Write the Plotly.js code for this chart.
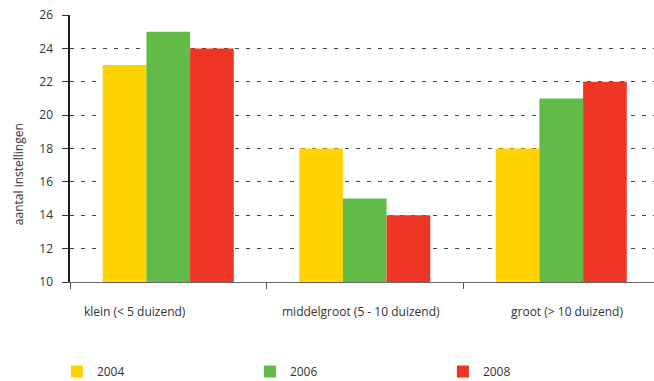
<!DOCTYPE html>
<html><head><meta charset="utf-8">
<script src="https://cdn.plot.ly/plotly-3.0.1.min.js"></script>
<style>html,body{margin:0;padding:0;background:#fff}#c{width:654px;height:381px}</style>
</head><body><div id="c"></div>
<script>
const categories = ["klein (< 5 duizend)", "middelgroot (5 - 10 duizend)", "groot (> 10 duizend)"];
const years = ["2004", "2006", "2008"];
const v2004 = [23, 18, 18];
const v2006 = [25, 15, 21];
const v2008 = [24, 14, 22];
const colors = ["#FFD200", "#62BB46", "#EE3424"];
const yTicks = [10, 12, 14, 16, 18, 20, 22, 24, 26];
const yTitle = 'aantal instellingen';
const labelShift = [-33, -4, 6];

const series = [v2004, v2006, v2008];
const traces = series.map((vals, i) => ({
  type: 'bar', x: categories, y: vals, name: years[i],
  marker: {color: colors[i], line: {width: 0}}, hoverinfo: 'skip'
}));

const fontFam = '"Open Sans", "Noto Sans", sans-serif';
const annotations = categories.map((c, i) => ({
  x: c, xref: 'x', y: -0.11, yref: 'paper', text: c, showarrow: false,
  xanchor: 'center', yanchor: 'middle', xshift: labelShift[i],
  font: {size: 12, color: '#333'}
}));
annotations.push({
  x: (18 - 70) / 584, xref: 'paper', y: 0.404, yref: 'paper', text: yTitle,
  showarrow: false, textangle: -90, font: {size: 12, color: '#333'},
  xanchor: 'center', yanchor: 'middle'
});

const layout = {
  width: 654, height: 381,
  margin: {l: 70, r: 0, t: 15, b: 99, autoexpand: false},
  paper_bgcolor: '#fff', plot_bgcolor: '#fff',
  barmode: 'group', bargap: 0.333, bargroupgap: 0,
  font: {family: fontFam, size: 12, color: '#333'},
  showlegend: true,
  legend: {orientation: 'h', xref: 'container', yref: 'paper',
    x: 0.087, xanchor: 'left', y: -0.281, yanchor: 'top',
    entrywidth: 148, entrywidthmode: 'pixels', font: {size: 12, color: '#333'},
    itemclick: false, traceorder: 'normal', bgcolor: 'rgba(0,0,0,0)'},
  xaxis: {type: 'category', range: [-0.5, 2.472], showgrid: false,
    showline: true, linecolor: '#666', linewidth: 1,
    ticks: 'outside', tickson: 'boundaries', ticklen: 6, tickcolor: '#555',
    showticklabels: false, fixedrange: true, zeroline: false},
  yaxis: {range: [10, 26], tickvals: yTicks, ticktext: yTicks.map(String),
    showline: true, linecolor: '#231f20', linewidth: 2.5,
    ticks: 'outside', ticklen: 6, tickcolor: '#333', tickwidth: 1,
    showgrid: true, gridcolor: '#444', griddash: '4px,7px', gridwidth: 1,
    zeroline: false, ticklabelstandoff: 6,
    tickfont: {size: 12, color: '#333'},
    fixedrange: true},
  annotations: annotations
};
Plotly.newPlot('c', traces, layout, {displayModeBar: false, staticPlot: true});
</script></body></html>
